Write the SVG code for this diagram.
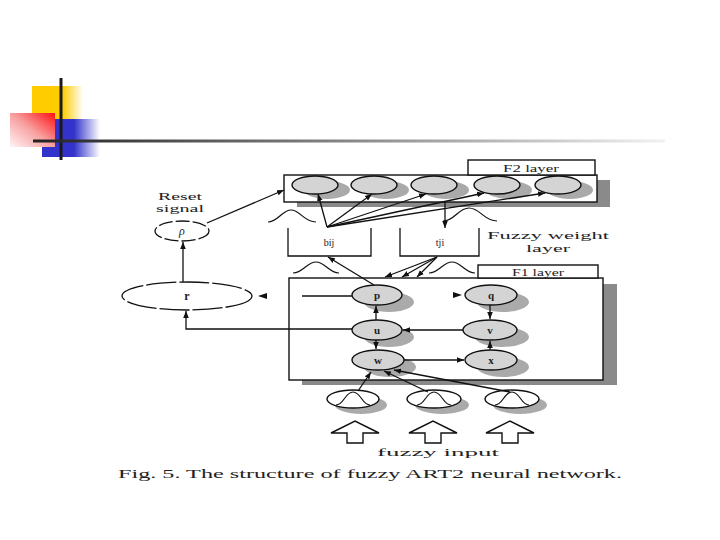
<svg xmlns="http://www.w3.org/2000/svg" width="720" height="540" viewBox="0 0 720 540">
<defs>
<linearGradient id="gy" x1="0" y1="0" x2="1" y2="0"><stop offset="0" stop-color="#FFCC00"/><stop offset="0.6" stop-color="#FFCC00"/><stop offset="1" stop-color="#FFFFFF"/></linearGradient>
<linearGradient id="gb" x1="0" y1="0" x2="1" y2="0"><stop offset="0" stop-color="#3333CC"/><stop offset="0.55" stop-color="#3333CC"/><stop offset="1" stop-color="#FFFFFF"/></linearGradient>
<linearGradient id="gr" x1="1" y1="0" x2="0" y2="1"><stop offset="0" stop-color="#FF1010"/><stop offset="0.5" stop-color="#F8A0A0"/><stop offset="1" stop-color="#FFF4F4"/></linearGradient>
<linearGradient id="gl" x1="0" y1="0" x2="1" y2="0"><stop offset="0" stop-color="#222"/><stop offset="0.5" stop-color="#888"/><stop offset="1" stop-color="#f2f2f2"/></linearGradient>
<marker id="ah" viewBox="0 0 10 10" refX="10" refY="5" markerWidth="7" markerHeight="7" markerUnits="userSpaceOnUse" orient="auto"><path d="M0,1 L10,5 L0,9 z" fill="#111"/></marker>
</defs>
<style>
.t{font-family:"Liberation Serif","DejaVu Serif",serif;fill:#222}
.box{fill:#fff;stroke:#111;stroke-width:1.4}
.shb{fill:#8a8a8a}
.nd{fill:#d4d4d4;stroke:#111;stroke-width:1.4}
.sh{fill:#aaaaaa}
.ln{fill:none;stroke:#111;stroke-width:1.3}
.ar{fill:none;stroke:#111;stroke-width:1.3;marker-end:url(#ah)}
.bell{fill:none;stroke:#111;stroke-width:1.2}
.hol{fill:#fff;stroke:#111;stroke-width:1.4}
</style>
<rect width="720" height="540" fill="#fff"/>

<g id="decoration">
<rect x="32" y="86" width="51" height="34" fill="url(#gy)"/>
<rect x="42" y="119" width="58" height="38" fill="url(#gb)"/>
<rect x="10" y="113" width="45" height="34" fill="url(#gr)"/>
<line x1="61" y1="78" x2="61" y2="160" stroke="#1a1a1a" stroke-width="3"/>
<rect x="33" y="139.5" width="632" height="3" fill="url(#gl)"/>
</g>

<g id="f2-layer">
<rect class="shb" x="297" y="180" width="313" height="27"/>
<rect class="box" x="284" y="175" width="313" height="27"/>
<rect class="box" x="468" y="160" width="127" height="15"/>
<text class="t" x="531" y="172" font-size="11" text-anchor="middle" textLength="56" lengthAdjust="spacingAndGlyphs">F2 layer</text>
</g>
<g id="f2-1"><ellipse class="sh" cx="327" cy="190" rx="23" ry="9"/><ellipse class="nd" cx="315" cy="185" rx="23" ry="9"/></g>
<g id="f2-2"><ellipse class="sh" cx="386" cy="190" rx="23" ry="9"/><ellipse class="nd" cx="374" cy="185" rx="23" ry="9"/></g>
<g id="f2-3"><ellipse class="sh" cx="446" cy="190" rx="23" ry="9"/><ellipse class="nd" cx="434" cy="185" rx="23" ry="9"/></g>
<g id="f2-4"><ellipse class="sh" cx="509" cy="190" rx="23" ry="9"/><ellipse class="nd" cx="497" cy="185" rx="23" ry="9"/></g>
<g id="f2-5"><ellipse class="sh" cx="570" cy="190" rx="23" ry="9"/><ellipse class="nd" cx="558" cy="185" rx="23" ry="9"/></g>

<g id="weight-layer">
<path class="ln" d="M288,228 V256 H371 V228"/>
<text class="t" x="329" y="246" font-size="10" text-anchor="middle">bij</text>
<path class="ln" d="M400,228 V256 H479 V228"/>
<text class="t" x="440" y="246" font-size="10" text-anchor="middle">tji</text>
<text class="t" x="548" y="239" font-size="11" text-anchor="middle" textLength="122" lengthAdjust="spacingAndGlyphs">Fuzzy weight</text>
<text class="t" x="548" y="252" font-size="11" text-anchor="middle" textLength="44" lengthAdjust="spacingAndGlyphs">layer</text>
<path class="bell" d="M268,222 C278,222 282,210 291,210 C300,210 304,222 316,222"/>
<path class="bell" d="M443,221 C455,221 458,208 469,208 C480,208 484,221 497,221"/>
<path class="bell" d="M293,273 C303,273 307,262 316,262 C325,262 329,273 339,273"/>
<path class="bell" d="M429,273 C439,273 443,262 452,262 C461,262 465,273 475,273"/>
</g>

<g id="f1-layer">
<rect class="shb" x="302" y="284" width="315" height="101"/>
<rect class="box" x="289" y="278" width="314" height="102"/>
<rect class="box" x="478" y="265" width="120" height="13"/>
<text class="t" x="538" y="275.5" font-size="10.5" text-anchor="middle" textLength="52" lengthAdjust="spacingAndGlyphs">F1 layer</text>
</g>
<g id="p"><ellipse class="sh" cx="389" cy="302" rx="25" ry="10"/><ellipse class="nd" cx="377" cy="295" rx="25" ry="10"/><text class="t" x="377" y="299" font-size="11" font-weight="bold" text-anchor="middle">p</text></g>
<g id="q"><ellipse class="sh" cx="503" cy="302" rx="26" ry="10"/><ellipse class="nd" cx="491" cy="295" rx="26" ry="10"/><text class="t" x="491" y="299" font-size="11" font-weight="bold" text-anchor="middle">q</text></g>
<g id="u"><ellipse class="sh" cx="389" cy="337" rx="25" ry="10"/><ellipse class="nd" cx="377" cy="330" rx="25" ry="10"/><text class="t" x="377" y="334" font-size="11" font-weight="bold" text-anchor="middle">u</text></g>
<g id="v"><ellipse class="sh" cx="502" cy="337" rx="27" ry="10"/><ellipse class="nd" cx="490" cy="330" rx="27" ry="10"/><text class="t" x="490" y="334" font-size="11" font-weight="bold" text-anchor="middle">v</text></g>
<g id="w"><ellipse class="sh" cx="390" cy="367" rx="26" ry="10"/><ellipse class="nd" cx="378" cy="360" rx="26" ry="10"/><text class="t" x="378" y="364" font-size="11" font-weight="bold" text-anchor="middle">w</text></g>
<g id="x"><ellipse class="sh" cx="503" cy="367" rx="26" ry="10"/><ellipse class="nd" cx="491" cy="360" rx="26" ry="10"/><text class="t" x="491" y="364" font-size="11" font-weight="bold" text-anchor="middle">x</text></g>

<g id="in1"><ellipse class="sh" cx="361" cy="405" rx="26" ry="9"/><ellipse class="nd" cx="353" cy="399" rx="26" ry="9" style="fill:#fff"/><path class="bell" d="M336,405 C344,405 345,392 353,392 C361,392 362,405 370,405"/></g>
<g id="in2"><ellipse class="sh" cx="442" cy="405" rx="27" ry="9"/><ellipse class="nd" cx="434" cy="399" rx="27" ry="9" style="fill:#fff"/><path class="bell" d="M417,405 C425,405 426,392 434,392 C442,392 443,405 451,405"/></g>
<g id="in3"><ellipse class="sh" cx="520" cy="405" rx="27" ry="9"/><ellipse class="nd" cx="512" cy="399" rx="27" ry="9" style="fill:#fff"/><path class="bell" d="M495,405 C503,405 504,392 512,392 C520,392 521,405 529,405"/></g>

<g id="input-arrows">
<path class="hol" d="M331,433 L355,421 L379,433 L363,433 L363,443 L347,443 L347,433 Z"/>
<path class="hol" d="M409,433 L433,421 L457,433 L441,433 L441,443 L425,443 L425,433 Z"/>
<path class="hol" d="M486,433 L510,421 L534,433 L518,433 L518,443 L502,443 L502,433 Z"/>
<text class="t" x="438" y="456" font-size="11" text-anchor="middle" textLength="122" lengthAdjust="spacingAndGlyphs">fuzzy    input</text>
</g>

<g id="rho">
<ellipse cx="182" cy="231" rx="27" ry="10" fill="#fff" stroke="#111" stroke-width="1.3" stroke-dasharray="14,3"/>
<text class="t" x="182" y="235" font-size="12" font-style="italic" text-anchor="middle">ρ</text>
<text class="t" x="180" y="200" font-size="11" text-anchor="middle" textLength="44" lengthAdjust="spacingAndGlyphs">Reset</text>
<text class="t" x="180" y="212" font-size="11" text-anchor="middle" textLength="48" lengthAdjust="spacingAndGlyphs">signal</text>
</g>
<g id="r">
<ellipse cx="187" cy="296" rx="65" ry="14" fill="#fff" stroke="#111" stroke-width="1.3" stroke-dasharray="30,3"/>
<text class="t" x="187" y="300" font-size="12" font-weight="bold" text-anchor="middle">r</text>
</g>

<g id="connectors">
<path class="ar" d="M207,223 L284,190"/>
<path class="ar" d="M183,282 L183,242"/>
<path class="ar" d="M352,329 H186 V311"/>
<path d="M267,293 L258,296 L267,299 Z" fill="#111"/>
<path d="M453,292 L462,295 L453,298 Z" fill="#111"/>
<path class="ln" d="M302,296 H352"/>
<path class="ar" d="M376,320 V306"/>
<path class="ar" d="M376,340 V349"/>
<path class="ar" d="M490,305 V319"/>
<path class="ar" d="M490,350 V341"/>
<path class="ar" d="M463,330 H403"/>
<path class="ar" d="M404,360 H464"/>
<path class="ar" d="M374,285 L328,257"/>
<path class="ar" d="M437,257 L385,277"/>
<path class="ar" d="M437,257 L402,277"/>
<path class="ar" d="M437,257 L417,277"/>
<path class="ar" d="M445,202 V228"/>
<path class="ar" d="M327,227 L318,194"/>
<path class="ar" d="M327,227 L372,194"/>
<path class="ar" d="M327,227 L426,194"/>
<path class="ar" d="M327,227 L484,193"/>
<path class="ar" d="M327,227 L545,193"/>
<path class="ar" d="M358,391 L371,372"/>
<path class="ar" d="M428,392 L384,371"/>
<path class="ar" d="M510,392 L394,370"/>
</g>

<text class="t" x="118" y="478" font-size="13.5" textLength="504" lengthAdjust="spacingAndGlyphs">Fig. 5.  The structure of fuzzy ART2 neural network.</text>
</svg>
